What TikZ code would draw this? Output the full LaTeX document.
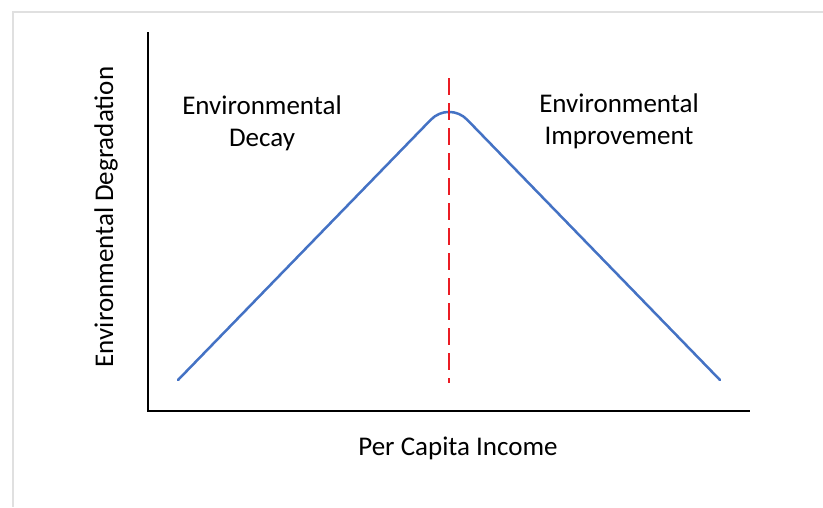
\documentclass[tikz,border=0pt]{standalone}
\usepackage{fontspec}
\setmainfont{Carlito}
\definecolor{curveblue}{RGB}{68,114,196}
\definecolor{peakred}{RGB}{235,28,36}

\begin{document}
\begin{tikzpicture}[x=1pt, y=-1pt, font=\fontsize{27}{32}\selectfont]
    \useasboundingbox (0,0) rectangle (823,507);
    % 枠
    \draw[line width=2pt, black!12] (13,507) -- (13,12) -- (823,12);

    % 軸
    \draw[line width=2pt] (148,32) -- (148,411) -- (750,411);
    \node[anchor=base] (xlabel) at (458,455) {Per Capita Income};
    \node[rotate=90, anchor=base] (ylabel) at (113,217) {Environmental Degradation};

    % 環境クズネッツ曲線
    \draw[line width=2.5pt, curveblue, line cap=round, rounded corners=26pt]
        (178,380) -- (449,101) -- (720,380);

    % 転換点の破線
    \draw[line width=2.8pt, peakred, dash pattern=on 17pt off 8pt] (449,78) -- (449,383);

    % 領域のラベル
    \node[align=center] (decay) at (262,123) {Environmental\\Decay};
    \node[align=center] (improve) at (619,121) {Environmental\\Improvement};
\end{tikzpicture}
\end{document}
